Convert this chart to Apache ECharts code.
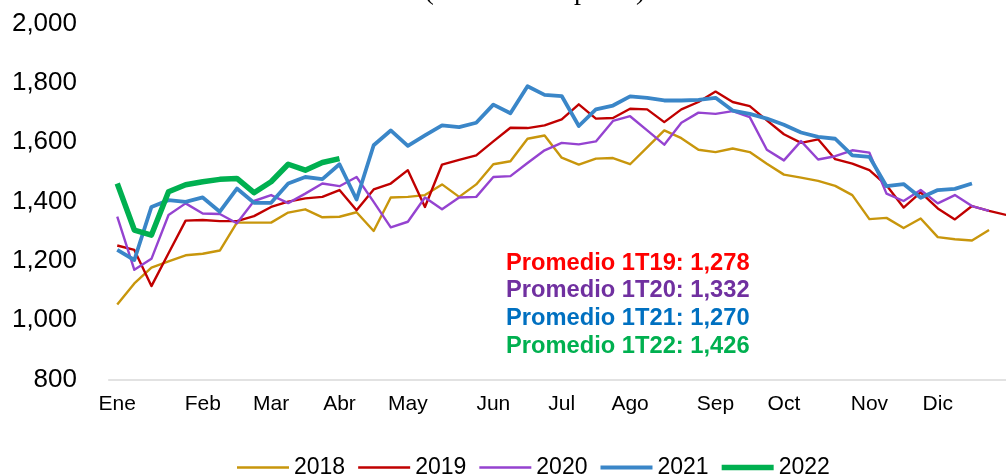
<!DOCTYPE html>
<html>
<head>
<meta charset="utf-8">
<title>Semanal</title>
<script src="https://cdn.jsdelivr.net/npm/echarts@6/dist/echarts.min.js"></script>
<style>
	html, body { margin: 0; padding: 0; background: #fff; }
	#chart { width: 1006px; height: 474px; }
</style>
</head>
<body>
<div id="chart"></div>
<script>
/* datos semanales (millones de pesos) */
const semanas = [
	'Ene', '', '', '', '',
	'Feb', '', '', '',
	'Mar', '', '', '',
	'Abr', '', '', '',
	'May', '', '', '', '',
	'Jun', '', '', '',
	'Jul', '', '', '',
	'Ago', '', '', '', '',
	'Sep', '', '', '',
	'Oct', '', '', '', '',
	'Nov', '', '', '',
	'Dic', '', '', '', ''
];
const yTicks = [800, 2000, 200]; // min, max, intervalo

const s2018 = [1053, 1124, 1177, 1198, 1219, 1224, 1235, 1329, 1329, 1329, 1363, 1374, 1347, 1349, 1364, 1301, 1414, 1416, 1422, 1458, 1416, 1458, 1526, 1536, 1612, 1623, 1548, 1525, 1545, 1547, 1526, 1583, 1640, 1614, 1575, 1567, 1579, 1567, 1528, 1491, 1481, 1470, 1453, 1422, 1341, 1345, 1311, 1343, 1280, 1273, 1269, 1304];
const s2019 = [1252, 1237, 1115, 1226, 1336, 1338, 1334, 1334, 1351, 1382, 1400, 1411, 1416, 1439, 1371, 1441, 1461, 1506, 1382, 1525, 1541, 1556, 1603, 1649, 1648, 1657, 1677, 1728, 1680, 1682, 1713, 1711, 1668, 1711, 1736, 1771, 1736, 1722, 1674, 1627, 1598, 1610, 1543, 1528, 1506, 1455, 1380, 1431, 1377, 1340, 1385, 1369, 1355];
const s2020 = [1349, 1170, 1207, 1355, 1394, 1360, 1358, 1327, 1402, 1422, 1395, 1427, 1461, 1452, 1483, 1399, 1313, 1332, 1414, 1374, 1414, 1416, 1483, 1486, 1530, 1573, 1598, 1593, 1603, 1672, 1688, 1640, 1592, 1666, 1700, 1696, 1705, 1685, 1575, 1539, 1604, 1542, 1553, 1573, 1565, 1427, 1402, 1439, 1394, 1422, 1385, 1369];
const s2021 = [1237, 1203, 1382, 1405, 1399, 1414, 1366, 1444, 1396, 1396, 1461, 1483, 1476, 1526, 1407, 1590, 1640, 1588, 1623, 1657, 1651, 1666, 1727, 1698, 1789, 1760, 1756, 1655, 1711, 1724, 1755, 1750, 1741, 1741, 1743, 1750, 1707, 1696, 1680, 1659, 1633, 1618, 1612, 1556, 1551, 1452, 1459, 1413, 1439, 1443, 1461];
const s2022 = [1461, 1304, 1287, 1433, 1457, 1467, 1475, 1478, 1430, 1467, 1526, 1506, 1532, 1545];

const promedios = [
	'Promedio 1T19: 1,278',
	'Promedio 1T20: 1,332',
	'Promedio 1T21: 1,270',
	'Promedio 1T22: 1,426'
];

const fuente = "'Liberation Sans', Arial, sans-serif";

// una serie de linea
function linea(nombre, datos, color, ancho) {
	return {
		name: nombre,
		type: 'line',
		data: datos,
		symbol: 'none',
		animation: false,
		lineStyle: { color: color, width: ancho, join: 'round' },
		itemStyle: { color: color }
	};
}

// icono de leyenda: barra horizontal de grosor g dentro de una caja 52x14
function iconoLinea(g) {
	let y0 = (7 - g / 2).toFixed(2), y1 = (7 + g / 2).toFixed(2);
	return 'path://M0,0 L0,0 Z M52,14 L52,14 Z M0,' + y0 + ' L52,' + y0 + ' L52,' + y1 + ' L0,' + y1 + ' Z';
}

const coloresProm = ['#ff0000', '#7030a0', '#0070c0', '#00b050'];
const textosProm = promedios.map(function (t, i) {
	return {
		type: 'text',
		left: 506,
		top: 251 + i * 27.7,
		style: {
			text: t,
			fill: coloresProm[i],
			font: "bold 23.7px 'Liberation Sans', Arial, sans-serif"
		}
	};
});

let chart = echarts.init(document.getElementById('chart'));
chart.setOption({
	backgroundColor: '#fff',
	animation: false,
	grid: { left: 108.7, top: 23.7, width: 906, height: 355.8, containLabel: false, outerBoundsMode: 'none' },
	xAxis: {
		type: 'category',
		data: semanas,
		boundaryGap: true,
		axisLine: { lineStyle: { color: '#d9d9d9', width: 1.5 } },
		axisTick: { show: false },
		axisLabel: { interval: 0, color: '#000', fontSize: 21, fontFamily: fuente, margin: 14 },
		splitLine: { show: false }
	},
	yAxis: {
		type: 'value',
		min: yTicks[0],
		max: yTicks[1],
		interval: yTicks[2],
		axisLine: { show: false },
		axisTick: { show: false },
		splitLine: { show: false },
		axisLabel: {
			color: '#000',
			fontSize: 26,
			fontFamily: fuente,
			margin: 31.7,
			formatter: function (v) { return v.toLocaleString('en-US'); }
		}
	},
	legend: {
		left: 232,
		top: 451,
		itemWidth: 52,
		itemHeight: 14,
		itemGap: 13,
		textStyle: { color: '#000', fontSize: 23, fontFamily: fuente },
		data: [
			{ name: '2018', icon: iconoLinea(2.6) },
			{ name: '2019', icon: iconoLinea(2.6) },
			{ name: '2020', icon: iconoLinea(2.6) },
			{ name: '2021', icon: iconoLinea(4) },
			{ name: '2022', icon: iconoLinea(5.5) }
		]
	},
	graphic: [{
		type: 'text',
		x: 535,
		y: 6,
		style: {
			text: '(Millones de pesos)',
			fill: '#000',
			font: "28px 'Liberation Serif', 'Times New Roman', serif",
			align: 'center',
			verticalAlign: 'bottom'
		}
	}].concat(textosProm),
	series: [
		linea('2018', s2018, '#c8960c', 2.4),
		linea('2019', s2019, '#c00000', 2.4),
		linea('2020', s2020, '#9543d0', 2.4),
		linea('2021', s2021, '#3a86c8', 3.8),
		linea('2022', s2022, '#00b050', 5.5)
	]
});
</script>
</body>
</html>
